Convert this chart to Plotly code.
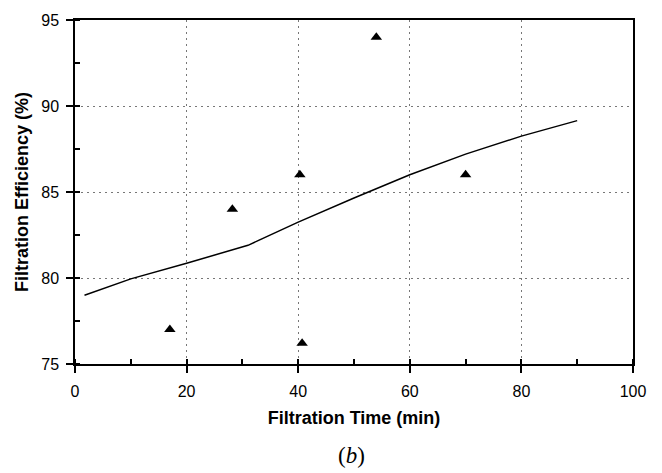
import plotly.graph_objects as go

# Measured data points (triangles)
pt_time = [17.0, 28.2, 40.3, 40.7, 54.0, 70.0]
pt_eff = [77.0, 84.0, 86.0, 76.2, 94.0, 86.0]

# Model curve
line_time = [1.7, 10, 20, 31, 33, 40, 50, 60, 70, 80, 90]
line_eff = [79.0, 79.95, 80.86, 81.9, 82.2, 83.25, 84.65, 86.0, 87.2, 88.25, 89.15]

x_ticks = [0, 20, 40, 60, 80, 100]
y_ticks = [75, 80, 85, 90, 95]

FONT = "Arial, Liberation Sans, sans-serif"

fig = go.Figure()
fig.add_trace(go.Scatter(x=line_time, y=line_eff, mode="lines",
                         line=dict(color="black", width=1.5), showlegend=False))
fig.add_trace(go.Scatter(x=pt_time, y=pt_eff, mode="markers",
                         marker=dict(symbol="triangle-up", size=10, color="black"),
                         showlegend=False))

axis_common = dict(
    showline=True, linecolor="black", linewidth=1.5, mirror=True,
    ticks="outside", ticklen=7, tickcolor="black", tickwidth=1.5,
    showgrid=True, gridcolor="#777777", griddash="2px,4px", gridwidth=1,
    zeroline=False,
    tickfont=dict(family=FONT, size=16, color="black"),
)

fig.update_xaxes(range=[0, 100], tickvals=x_ticks, **axis_common, ticklabelstandoff=5,
                 minor=dict(dtick=10, ticks="inside", ticklen=5, tickcolor="black", showgrid=False),
                 title=dict(text="<b>Filtration Time (min)</b>", standoff=12,
                            font=dict(family=FONT, size=18, color="black")))
fig.update_yaxes(range=[75, 95], tickvals=y_ticks, **axis_common, ticklabelstandoff=4,
                 minor=dict(dtick=2.5, ticks="inside", ticklen=5, tickcolor="black", showgrid=False),
                 title=dict(text="<b>Filtration Efficiency (%)</b>", standoff=8,
                            font=dict(family=FONT, size=18, color="black")))

fig.add_annotation(text="(<i>b</i>)", xref="paper", yref="paper", x=0.495, y=-0.265,
                   showarrow=False, xanchor="center", yanchor="middle",
                   font=dict(family="Times New Roman, Liberation Serif, serif", size=23, color="black"))

fig.update_layout(
    width=662, height=473,
    margin=dict(l=75, r=29, t=15, b=109),
    plot_bgcolor="white", paper_bgcolor="white",
    font=dict(family=FONT),
)

fig.write_html("out.html")
